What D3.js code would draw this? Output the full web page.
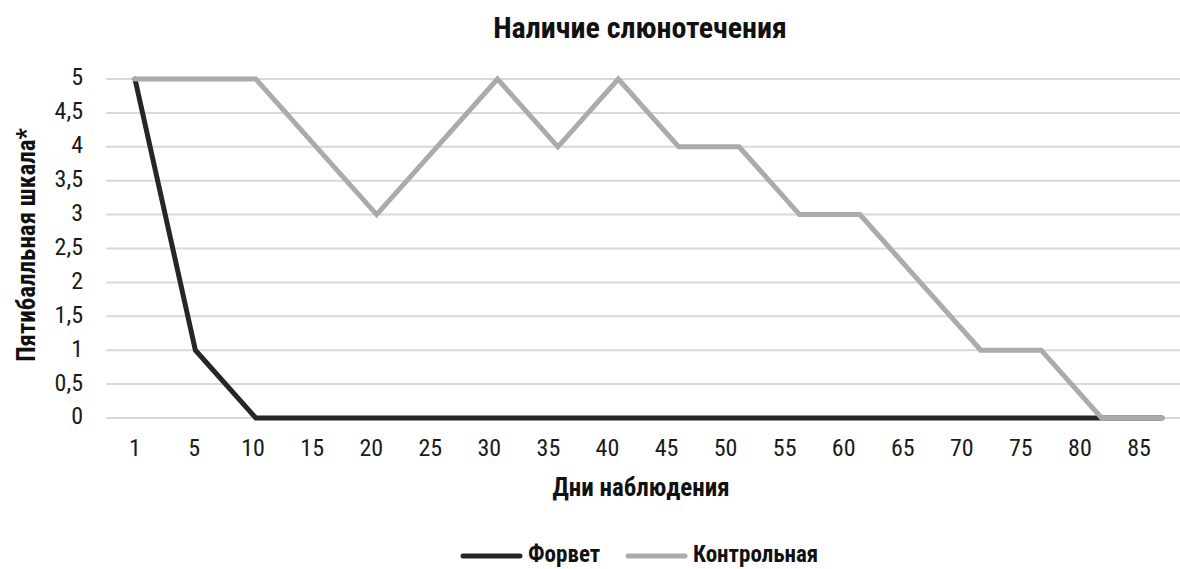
<!DOCTYPE html>
<html><head><meta charset="utf-8">
<script src="https://cdn.jsdelivr.net/npm/d3@7"></script>
<style>
body{margin:0;background:#fff;}
text{font-family:"Liberation Sans Narrow","Roboto Condensed","Arial Narrow",sans-serif;}
</style></head>
<body><svg id="c" width="1180" height="569"></svg>
<script>
const days = ["1","5","10","15","20","25","30","35","40","45","50","55","60","65","70","75","80","85"];
const forvet = [5,1,0,0,0,0,0,0,0,0,0,0,0,0,0,0,0,0];
const control = [5,5,5,4,3,4,5,4,5,4,4,3,3,2,1,1,0,0];
const yTicks = [0,0.5,1,1.5,2,2.5,3,3.5,4,4.5,5];
const seriesNames = ["Форвет","Контрольная"];
const colors = ["#262626","#ababab"];

const svg = d3.select("#c");
const x = d3.scalePoint().domain(days).range([135,1162]);
const xLab = d3.scalePoint().domain(days).range([135,1139]);
const y = d3.scaleLinear().domain([0,5]).range([418,79]);
const fmt = v => String(v).replace(".",",");

svg.append("g").selectAll("line").data(yTicks).join("line")
  .attr("x1",106).attr("x2",1180).attr("y1",d=>y(d)).attr("y2",d=>y(d))
  .attr("stroke","#d9d9d9").attr("stroke-width",2);

svg.append("g").selectAll("text").data(yTicks).join("text")
  .attr("x",83).attr("y",d=>y(d)-2).attr("dy","0.35em").attr("text-anchor","end")
  .attr("font-size",24).attr("fill","#1a1a1a").text(fmt);

svg.append("g").selectAll("text").data(days).join("text")
  .attr("x",d=>xLab(d)).attr("y",448).attr("dy","0.35em").attr("text-anchor","middle")
  .attr("font-size",24).attr("fill","#1a1a1a").text(d=>d);

const line = d3.line().x((d,i)=>x(days[i])).y(d=>y(d));
[forvet,control].forEach((s,i)=>{
  svg.append("path").datum(s).attr("d",line).attr("fill","none")
   .attr("stroke",colors[i]).attr("stroke-width",5).attr("stroke-linejoin","miter").attr("stroke-linecap","round");
});

svg.append("text").attr("x",640).attr("y",27).attr("dy","0.35em").attr("text-anchor","middle")
  .attr("font-size",30).attr("font-weight","bold").attr("fill","#111").text("Наличие слюнотечения");
svg.append("text").attr("x",641).attr("y",487).attr("dy","0.35em").attr("text-anchor","middle")
  .attr("font-size",25).attr("font-weight","bold").attr("fill","#111").text("Дни наблюдения");
svg.append("text").attr("transform","translate(26,245) rotate(-90)").attr("dy","0.35em").attr("text-anchor","middle")
  .attr("font-size",25).attr("font-weight","bold").attr("fill","#111").text("Пятибалльная шкала*");

const leg = svg.append("g");
const legX = [463,628];
seriesNames.forEach((n,i)=>{
  leg.append("line").attr("x1",legX[i]).attr("x2",legX[i]+57).attr("y1",556).attr("y2",556)
    .attr("stroke",colors[i]).attr("stroke-width",5).attr("stroke-linecap","round");
  leg.append("text").attr("x",legX[i]+65).attr("y",554).attr("dy","0.35em")
    .attr("font-size",23).attr("font-weight","bold").attr("fill","#111").text(n);
});
</script></body></html>
